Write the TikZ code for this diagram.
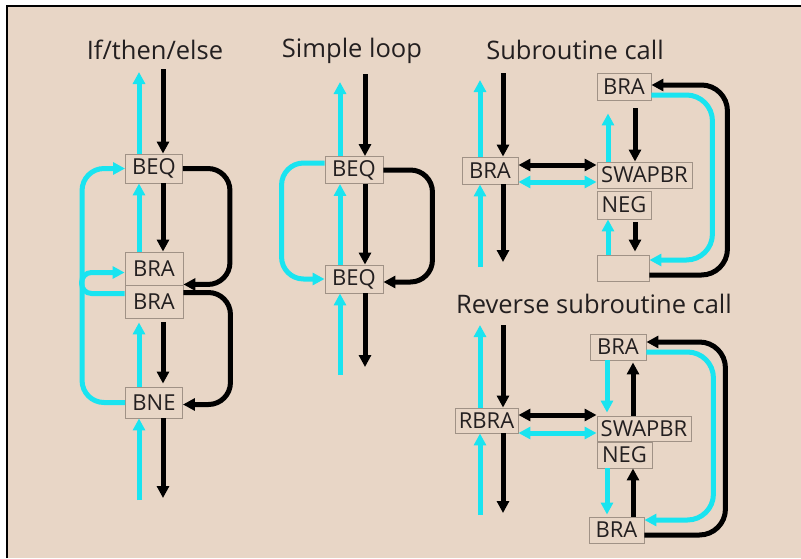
\documentclass[tikz,border=0pt]{standalone}
\usepackage{fontspec}
\setmainfont{Open Sans}
\usetikzlibrary{arrows.meta,calc}
\definecolor{bg}{RGB}{232,214,198}
\definecolor{cyanline}{RGB}{25,228,240}
\definecolor{boxline}{RGB}{160,146,134}
\definecolor{ink}{RGB}{35,31,32}
\begin{document}
\begin{tikzpicture}[x=1pt,y=-1pt,
  op/.style={draw=boxline,line width=0.9pt,fill=bg,inner sep=0pt,
    font=\fontsize{22}{22}\selectfont,text=ink},
  title/.style={font=\fontsize{25.5}{25.5}\selectfont,text=ink,anchor=base},
  tip/.style={-{Triangle[length=12pt,width=12pt]}},
  blk/.style={draw=black,line width=5pt,tip},
  cy/.style={draw=cyanline,line width=5pt,tip},
  dblk/.style={draw=black,line width=5pt,
    {Triangle[length=12pt,width=12pt]}-{Triangle[length=12pt,width=12pt]}},
  dcy/.style={draw=cyanline,line width=5pt,
    {Triangle[length=12pt,width=12pt]}-{Triangle[length=12pt,width=12pt]}},
]
\useasboundingbox (0,0) rectangle (801,558);
\fill[white] (0,0) rectangle (801,558);
\fill[bg] (7,6) rectangle (801,558);
\draw[line width=1.5pt] (7,558) -- (7,6) -- (801,6);

% titles
\node[title] (t1) at (155,59) {If/then/else};
\node[title] (t2) at (352,57) {Simple loop};
\node[title] (t3) at (575,59) {Subroutine call};
\node[title] (t4) at (594,313) {Reverse subroutine call};

% ---- If/then/else ----
\node[op,minimum width=57pt,minimum height=29pt] (beqA) at (154,168.5) {BEQ};
\node[op,minimum width=58pt,minimum height=33pt] (braA) at (154,268.5) {BRA};
\node[op,minimum width=58pt,minimum height=33pt] (braB) at (154,301.5) {BRA};
\node[op,minimum width=57pt,minimum height=31pt] (bneA) at (154,402.5) {BNE};
\coordinate (inA) at (163,69);
\coordinate (outA) at (139,72);
\coordinate (endA) at (163,498);
\coordinate (startA) at (139,500);
\draw[blk] (inA) -- (inA |- beqA.north);
\draw[cy] (outA |- beqA.north) -- (outA);
\draw[blk] (inA |- beqA.south) -- (inA |- braA.north);
\draw[cy] (outA |- braA.north) -- (outA |- beqA.south);
\draw[blk,shorten <=4pt,shorten >=3pt] (inA |- braB.south) -- (inA |- bneA.north);
\draw[cy,shorten >=4pt] (outA |- bneA.north) -- (outA |- braB.south);
\draw[blk] (inA |- bneA.south) -- (endA);
\draw[cy] (startA) -- (outA |- bneA.south);
\draw[blk,rounded corners=22pt] (beqA.east) -- ++(47,0) |- ([yshift=1pt]braA.south east);
\draw[blk,rounded corners=22pt] ([yshift=9pt]braB.east) -- ++(47,0) |- ([yshift=-2pt]bneA.east);
\draw[cy,rounded corners=22pt] (bneA.west) -- ++(-43,0) |- (beqA.west);
\draw[cy,rounded corners=10pt] ([yshift=8pt]braB.west) -- ++(-43,0) |- ([yshift=-4pt]braA.west);

% ---- Simple loop ----
\node[op,minimum width=58pt,minimum height=27pt] (beqB) at (354,170) {BEQ};
\node[op,minimum width=58pt,minimum height=28pt] (beqC) at (354,279) {BEQ};
\coordinate (inB) at (365,74);
\coordinate (outB) at (340,82);
\coordinate (endB) at (365,367);
\coordinate (startB) at (340,375);
\draw[blk] (inB) -- (inB |- beqB.north);
\draw[cy] (outB |- beqB.north) -- (outB);
\draw[blk] (inB |- beqB.south) -- (inB |- beqC.north);
\draw[cy] (outB |- beqC.north) -- (outB |- beqB.south);
\draw[blk] (inB |- beqC.south) -- (endB);
\draw[cy] (startB) -- (outB |- beqC.south);
\draw[blk,rounded corners=22pt] (beqB.east) -- ++(49,0) |- ([yshift=-3pt]beqC.east);
\draw[cy,rounded corners=22pt] ([yshift=7pt]beqB.west) -- ++(-43,0) |- (beqC.west);

% ---- Subroutine call ----
\node[op,minimum width=56pt,minimum height=27pt] (braL) at (490,170.5) {BRA};
\node[op,minimum width=54pt,minimum height=27pt] (braT) at (624,86.5) {BRA};
\node[op,minimum width=95pt,minimum height=26pt] (swap) at (644.5,175) {SWAPBR};
\node[op,minimum width=54pt,minimum height=28pt] (neg) at (624,205) {NEG};
\node[op,minimum width=52pt,minimum height=26pt] (ret) at (623,268) {};
\coordinate (inC) at (503,73);
\coordinate (outC) at (480,80);
\coordinate (endC) at (503,262);
\coordinate (startC) at (480,267);
\draw[blk] (inC) -- (inC |- braL.north);
\draw[cy] (outC |- braL.north) -- (outC);
\draw[blk] (inC |- braL.south) -- (endC);
\draw[cy] (startC) -- (outC |- braL.south);
\draw[dblk] ([yshift=5.5pt]braL.east) -- ([yshift=5.5pt]braL.east -| swap.west);
\draw[dcy] ([yshift=-11.5pt]braL.east) -- ([yshift=-11.5pt]braL.east -| swap.west);
\coordinate (xk) at (635,0);
\coordinate (xc) at (608,0);
\draw[blk,shorten <=8pt] (xk |- braT.south) -- (xk |- swap.north);
\draw[cy,shorten >=13pt] (xc |- swap.north) -- (xc |- braT.south);
\draw[blk,shorten <=3pt,shorten >=3pt] (xk |- neg.south) -- (xk |- ret.north);
\draw[cy] (xc |- ret.north) -- (xc |- neg.south);
\draw[blk,rounded corners=26pt] ([yshift=-7pt]ret.east) -- ++(78,0) |- ([yshift=1.5pt]braT.east);
\draw[cy,rounded corners=26pt] ([yshift=-8.5pt]braT.east) -- ++(61,0) |- ([yshift=8pt]ret.east);

% ---- Reverse subroutine call ----
\node[op,minimum width=63pt,minimum height=25pt] (rbra) at (486.5,420.5) {RBRA};
\node[op,minimum width=56pt,minimum height=26pt] (braT2) at (618,347) {BRA};
\node[op,minimum width=94pt,minimum height=25pt] (swap2) at (644,428.5) {SWAPBR};
\node[op,minimum width=55pt,minimum height=26pt] (neg2) at (624.5,455) {NEG};
\node[op,minimum width=55pt,minimum height=26pt] (braB2) at (616.5,530) {BRA};
\coordinate (inD) at (503,325);
\coordinate (outD) at (480,325);
\coordinate (endD) at (503,513);
\coordinate (startD) at (480,515);
\draw[blk] (inD) -- (inD |- rbra.north);
\draw[cy] (outD |- rbra.north) -- (outD);
\draw[blk] (inD |- rbra.south) -- (endD);
\draw[cy] (startD) -- (outD |- rbra.south);
\draw[dblk] ([yshift=5.5pt]rbra.east) -- ([yshift=5.5pt]rbra.east -| swap2.west);
\draw[dcy] ([yshift=-12.5pt]rbra.east) -- ([yshift=-12.5pt]rbra.east -| swap2.west);
\coordinate (xk2) at (633,0);
\coordinate (xc2) at (607,0);
\draw[cy,shorten >=3pt] (xc2 |- braT2.south) -- (xc2 |- swap2.north);
\draw[blk,shorten >=2pt] (xk2 |- swap2.north) -- (xk2 |- braT2.south);
\draw[cy,shorten >=2pt] (xc2 |- neg2.south) -- (xc2 |- braB2.north);
\draw[blk] (xk2 |- braB2.north) -- (xk2 |- neg2.south);
\draw[blk,rounded corners=26pt] ([yshift=-5pt]braB2.east) -- ++(81,0) |- ([yshift=5pt]braT2.east);
\draw[cy,rounded corners=26pt] ([yshift=-5pt]braT2.east) -- ++(67,0) |- ([yshift=10pt]braB2.east);
\end{tikzpicture}
\end{document}
